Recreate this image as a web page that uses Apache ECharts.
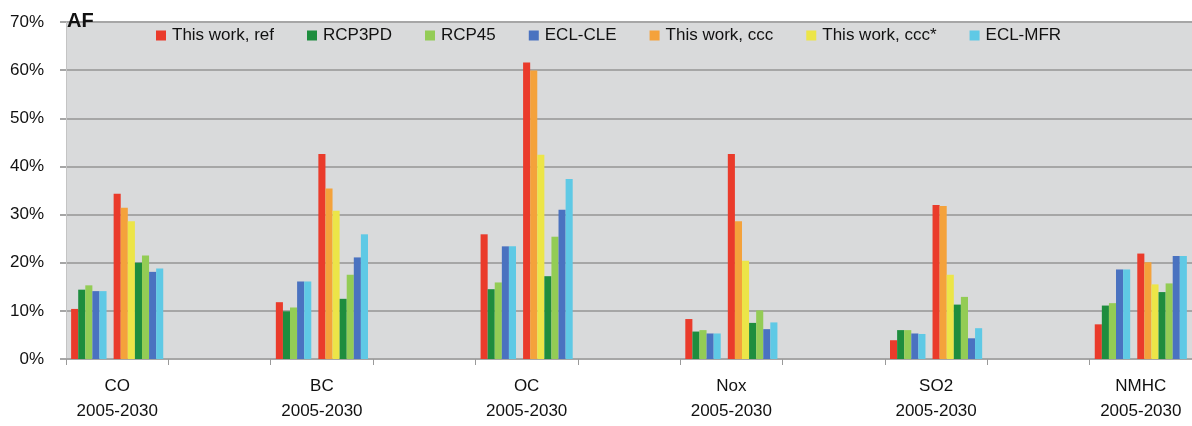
<!DOCTYPE html>
<html>
<head>
<meta charset="utf-8">
<script src="https://cdn.jsdelivr.net/npm/echarts@6/dist/echarts.min.js"></script>
<style>
  html, body { margin: 0; padding: 0; background: #ffffff; }
  #chart { width: 1192px; height: 426px; }
</style>
</head>
<body>
<div id="chart"></div>
<script>
// Categories (species) — each spans 2005 and 2030 groups
var species = ['CO', 'BC', 'OC', 'Nox', 'SO2', 'NMHC'];
var periodLabel = '2005-2030';
var yTicks = [0, 10, 20, 30, 40, 50, 60, 70];

// 2005 values (%)
var ref2005    = [10.4, 11.8, 25.9, 8.3, 3.9, 7.2];
var rcp3pd2005 = [14.4,  9.9, 14.5, 5.7, 6.0, 11.1];
var rcp45_2005 = [15.3, 10.7, 15.9, 6.0, 6.0, 11.6];
var cle2005    = [14.1, 16.1, 23.4, 5.3, 5.3, 18.6];
var mfr2005    = [14.1, 16.1, 23.4, 5.3, 5.2, 18.6];

// 2030 values (%)
var ref2030    = [34.3, 42.6, 61.6, 42.6, 32.0, 21.9];
var ccc2030    = [31.4, 35.4, 59.9, 28.6, 31.8, 20.1];
var cccs2030   = [28.6, 30.8, 42.4, 20.4, 17.5, 15.5];
var rcp3pd2030 = [20.0, 12.5, 17.2,  7.5, 11.3, 13.9];
var rcp45_2030 = [21.5, 17.5, 25.4, 10.1, 12.9, 15.7];
var cle2030    = [18.1, 21.1, 31.0,  6.2,  4.3, 21.4];
var mfr2030    = [18.8, 25.9, 37.4,  7.6,  6.4, 21.4];

var legendNames = ['This work, ref', 'RCP3PD', 'RCP45', 'ECL-CLE', 'This work, ccc', 'This work, ccc*', 'ECL-MFR'];
var colors = {
  'This work, ref': '#ea3b2b',
  'RCP3PD': '#1e8d3e',
  'RCP45': '#93cc55',
  'ECL-CLE': '#4a72c0',
  'This work, ccc': '#f4a23b',
  'This work, ccc*': '#ece548',
  'ECL-MFR': '#5fc9e5'
};

// Build axis categories: species then an empty spacer category
var axisCats = [];
species.forEach(function (s, i) {
  axisCats.push(s + '\n' + periodLabel);
  if (i < species.length - 1) axisCats.push('');
});

function spread(arr) {
  var out = [];
  arr.forEach(function (v, i) {
    out.push(v);
    if (i < arr.length - 1) out.push(null);
  });
  return out;
}

var seriesDefs = [
  ['This work, ref', ref2005],
  ['RCP3PD', rcp3pd2005],
  ['RCP45', rcp45_2005],
  ['ECL-CLE', cle2005],
  ['ECL-MFR', mfr2005],
  [null, null],
  ['This work, ref', ref2030],
  ['This work, ccc', ccc2030],
  ['This work, ccc*', cccs2030],
  ['RCP3PD', rcp3pd2030],
  ['RCP45', rcp45_2030],
  ['ECL-CLE', cle2030],
  ['ECL-MFR', mfr2030]
];

var series = seriesDefs.map(function (d) {
  if (d[0] === null) {
    return {
      type: 'bar', name: 'spacer', barGap: '0%', barCategoryGap: '10%',
      data: axisCats.map(function () { return null; }),
      silent: true
    };
  }
  return {
    type: 'bar',
    name: d[0],
    barGap: '0%',
    barCategoryGap: '10%',
    itemStyle: { color: colors[d[0]] },
    data: spread(d[1])
  };
});

var FONT = '"Liberation Sans", Arial, Helvetica, sans-serif';

var chart = echarts.init(document.getElementById('chart'), null, { renderer: 'canvas' });
chart.setOption({
  animation: false,
  backgroundColor: '#ffffff',
  textStyle: { fontFamily: FONT },
  grid: {
    left: 66, right: -3, top: 22, bottom: 67,
    show: true, backgroundColor: '#d9dadb', borderWidth: 0,
    containLabel: false
  },
  legend: {
    data: legendNames,
    left: 156,
    top: 27,
    padding: 0,
    itemGap: 33,
    itemWidth: 10,
    itemHeight: 10,
    icon: 'rect',
    textStyle: { fontFamily: FONT, fontSize: 17, color: '#111111', padding: [0, 0, 0, 1] }
  },
  graphic: [{
    type: 'text',
    left: 67, top: 11,
    z: 100,
    style: { text: 'AF', font: 'bold 20px ' + FONT, fill: '#111111' }
  }],
  xAxis: {
    type: 'category',
    data: axisCats,
    boundaryGap: true,
    axisLine: { show: true, lineStyle: { color: '#a6a6a6', width: 2 } },
    axisTick: { show: true, interval: 0, length: 6, lineStyle: { color: '#9a9a9a', width: 1 } },
    axisLabel: {
      interval: 0, margin: 15, fontSize: 17, lineHeight: 25,
      color: '#111111', fontFamily: FONT
    },
    splitLine: { show: false }
  },
  yAxis: {
    type: 'value',
    min: yTicks[0],
    max: yTicks[yTicks.length - 1],
    interval: 10,
    axisLine: { show: true, lineStyle: { color: '#c4c4c4', width: 1 } },
    axisTick: { show: true, length: 6, lineStyle: { color: '#a6a6a6', width: 2 } },
    axisLabel: {
      margin: 22, fontSize: 17, color: '#111111', fontFamily: FONT,
      formatter: function (v) { return v + '%'; }
    },
    splitLine: { show: true, lineStyle: { color: '#a6a6a6', width: 2 } }
  },
  series: series
});
</script>
</body>
</html>
